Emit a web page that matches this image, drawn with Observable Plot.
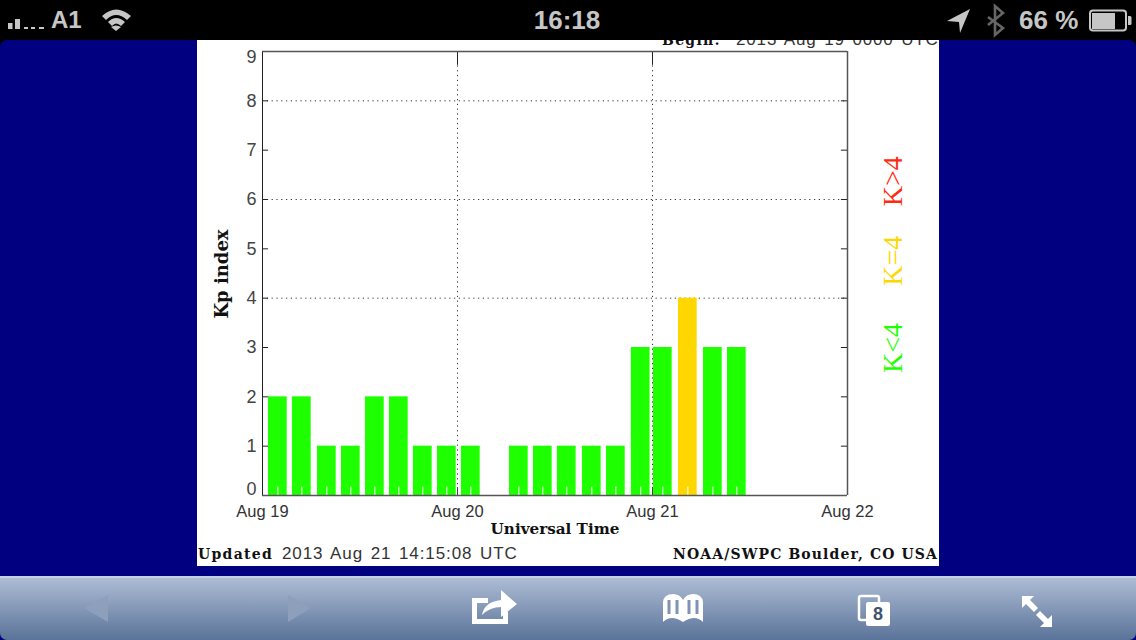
<!DOCTYPE html>
<html>
<head>
<meta charset="utf-8">
<script src="https://cdn.jsdelivr.net/npm/d3@7"></script>
<script src="https://cdn.jsdelivr.net/npm/@observablehq/plot@0.6"></script>
<style>
html,body{margin:0;padding:0;width:1136px;height:640px;overflow:hidden;background:#000}
#navy{position:absolute;left:0;top:40px;width:1136px;height:600px;background:#000080;border-radius:7px 7px 0 0}
#sheet{position:absolute;left:197px;top:40px;width:742px;height:526px;background:#fff;overflow:hidden}
#chart{position:absolute;left:0;top:0}
.line{position:absolute;white-space:pre;color:#333;font:17px "Liberation Sans",sans-serif;letter-spacing:.9px;word-spacing:2px;line-height:18px}
.line b{font:bold 14px "DejaVu Serif",serif;letter-spacing:1.3px;word-spacing:1px;color:#111}
#status{position:absolute;left:0;top:0;width:1136px;height:40px;background:#000;color:#c6c6c6;font-family:"Liberation Sans",sans-serif}
#status span{position:absolute;line-height:40px;top:0}
#bar{position:absolute;left:0;top:576px;width:1136px;height:64px;border-radius:0 0 7px 7px;border-top:2px solid #c5d0e0;box-sizing:border-box;background:linear-gradient(#adbcd4,#5a7399)}
.icon{position:absolute;left:0;top:0}
</style>
</head>
<body>
<div id="navy"></div>
<div id="sheet">
  <div class="line" style="left:465px;top:-9px"><b>Begin:</b></div>
  <div class="line" style="left:539px;top:-9px;letter-spacing:.85px">2013 Aug 19 0000 UTC</div>
  <div class="line" style="left:1px;top:505px"><b>Updated</b></div>
  <div class="line" style="left:85px;top:505px">2013 Aug 21 14:15:08 UTC</div>
  <div class="line" style="left:476px;top:505px"><b style="letter-spacing:1.12px;word-spacing:0">NOAA/SWPC Boulder, CO USA</b></div>
</div>
<div id="chart"></div>
<div id="bar"></div>
<div id="status">
  <span style="left:51px;font-size:24px;font-weight:700">A1</span>
  <span style="left:532px;width:70px;text-align:center;font-size:26px;font-weight:700">16:18</span>
  <span style="left:1019px;font-size:26px;font-weight:700">66 %</span>
</div>
<svg class="icon" width="1136" height="640" viewBox="0 0 1136 640">
  <g fill="#c6c6c6">
    <rect x="8" y="23" width="4.5" height="6"/><rect x="15" y="19" width="5" height="10"/>
    <rect x="24" y="27" width="4" height="2"/><rect x="31" y="27" width="4" height="2"/><rect x="39" y="27" width="5" height="2"/>
    <path d="M102 16 Q116 3 131 16 L127 20 Q116 10 106 20Z"/>
    <path d="M108 22 Q116 14 125 22 L121 26 Q116 21 112 26Z"/>
    <path d="M116 31 L111 27 Q116 24 121 27Z"/>
    <path d="M947 21 L970 9 L960 33 L959 22Z"/>
    <rect x="1092" y="13" width="23" height="16"/>
  </g>
  <path d="M988 17 L1003 28 L995 35 L995 6 L1003 13 L988 25" fill="none" stroke="#666" stroke-width="2.6"/>
  <rect x="1090" y="10.5" width="36" height="20" rx="3" fill="none" stroke="#c6c6c6" stroke-width="2"/>
  <path d="M1128 16 h2 q1.5 0 1.5 1.5 v6 q0 1.5 -1.5 1.5 h-2Z" fill="#c6c6c6"/>

  <path d="M108 595 L84 608 L108 622Z" fill="#8d9fba"/>
  <path d="M288 595 L311 608 L288 622Z" fill="#8d9fba"/>
  <path d="M472 598 H488 V603 H477 V619 H503 V612 H508 V624 H472Z" fill="#fff"/>
  <path d="M482 615 Q484 602 501 600 V590 L517 604 L501 617 V607 Q490 607 482 615Z" fill="#fff"/>
  <path d="M663 622 V602 Q664 594 673 594 Q680 594 683 600 Q686 594 693 594 Q702 594 703 602 V622 Q695 614 683 622 Q671 614 663 622Z" fill="#fff"/>
  <path d="M669 600 V614 M677 600 V614 M689 600 V614 M697 600 V614" stroke="#7f93b3" stroke-width="3"/>
  <rect x="859" y="596" width="20" height="24" rx="2" fill="none" stroke="#fff" stroke-width="2.5"/>
  <rect x="866" y="602" width="24" height="24" rx="2" fill="#fff"/>
  <text x="878" y="620" text-anchor="middle" font-family="Liberation Sans" font-weight="700" font-size="18" fill="#3e5270">8</text>
  <path d="M1022 596 H1034 L1030 600 L1038 608 L1034 612 L1026 604 L1022 608Z" fill="#fff"/>
  <path d="M1052 627 H1040 L1044 623 L1036 615 L1040 611 L1048 619 L1052 615Z" fill="#fff"/>
</svg>
<script>
// Kp index, one value per 3-hour reading, with the hour after Aug 19 00:00 UT each bar begins at
const barStartHours = [0.74, 3.69, 6.77, 9.72, 12.68, 15.63, 18.58, 21.54, 24.49, 27.45, 30.4, 33.35, 36.3, 39.38, 42.34, 45.4, 48.12, 51.2, 54.28, 57.23];
const kpValues = [2, 2, 1, 1, 2, 2, 1, 1, 1, 0, 1, 1, 1, 1, 1, 3, 3, 4, 3, 3];
const barSpanHours = 2.3;
const dayHours = [0, 24, 48, 72];
const dayLabels = ["Aug 19", "Aug 20", "Aug 21", "Aug 22"];
const kTicks = [0, 1, 2, 3, 4, 5, 6, 7, 8, 9];
const kGrid = [4, 6, 8];
const legendLabels = ["K>4", "K=4", "K<4"];
const legendKp = [6.37, 4.76, 2.99];
const legendColors = ["#ff2a10", "#ffd700", "#1eff00"];

const T = h => new Date(Date.UTC(2013, 7, 19) + h * 3600000);
const bars = kpValues.map((k, i) => ({k, a: T(barStartHours[i]), b: T(barStartHours[i] + barSpanHours), c: T(barStartHours[i] + barSpanHours / 2)}));
const sans = "Liberation Sans, sans-serif";
const serif = "Liberation Serif, serif";
const boldSerif = "DejaVu Serif, serif";
const ink = "#555";
const tickLen = 0.75;
const dayTicks = dayHours.map(T);
const yAxisStyle = {tickSize: 0, tickPadding: 6, label: null, fontSize: 18, fontFamily: sans, fill: "#444"};

const plot = Plot.plot({
  width: 1136, height: 640,
  marginLeft: 262, marginRight: 289, marginTop: 51, marginBottom: 145,
  style: {background: "transparent", overflow: "visible"},
  x: {type: "utc", domain: [T(0), T(72)]},
  y: {domain: [0, 9]},
  color: {type: "threshold", domain: [4, 5], range: ["#1eff00", "#ffd700", "#ff2a10"]},
  marks: [
    Plot.ruleY(kGrid, {stroke: "#333", strokeWidth: 1, strokeDasharray: "1.2 3.6"}),
    Plot.ruleX(dayTicks.slice(1, 3), {stroke: "#333", strokeWidth: 1, strokeDasharray: "1.2 3.6"}),
    Plot.rectY(bars.filter(d => d.k > 0), {x1: "a", x2: "b", y1: 0, y2: "k", fill: "k"}),
    Plot.ruleX(bars.filter(d => d.k > 0), {x: "c", y1: 0, y2: 0.17, stroke: "#fff", strokeWidth: 1}),
    Plot.ruleX(dayTicks.slice(1, 3), {y1: 8.72, y2: 9, stroke: "#222", strokeWidth: 1}),
    Plot.ruleX(dayTicks.slice(1, 3), {y1: 0, y2: 0.16, stroke: "#444", strokeWidth: 1}),
    Plot.ruleY(kTicks.slice(1, 9), {x1: T(0), x2: T(tickLen), stroke: "#222", strokeWidth: 1}),
    Plot.ruleY(kTicks.slice(1, 9), {x1: T(72 - tickLen), x2: T(72), stroke: "#222", strokeWidth: 1}),
    Plot.ruleX([T(0)], {stroke: "#222", strokeWidth: 1}),
    Plot.ruleX([T(72)], {stroke: ink, strokeWidth: 1.5}),
    Plot.ruleY([0, 9], {stroke: ink, strokeWidth: 1.6}),
    Plot.axisY({...yAxisStyle, ticks: kTicks.slice(1, 9)}),
    Plot.axisY({...yAxisStyle, ticks: [9], dy: 6}),
    Plot.axisY({...yAxisStyle, ticks: [0], dy: -6}),
    Plot.axisX({ticks: dayTicks, tickSize: 0, tickPadding: 10, label: null, fontSize: 16.5, fontFamily: sans, fill: "#333",
      tickFormat: d => dayLabels[dayTicks.findIndex(t => +t === +d)]}),
    Plot.text(["Universal Time"], {x: T(36), y: -0.69, fontSize: 15.2, fontWeight: 700, fontFamily: boldSerif, fill: "#111"}),
    Plot.text(["Kp index"], {x: T(-5.0), y: 4.49, rotate: -90, fontSize: 18, fontWeight: 700, fontFamily: boldSerif, fill: "#111"}),
    Plot.text(legendLabels, {x: T(77.65), y: (d, i) => legendKp[i], rotate: -90, fontSize: 28, fontFamily: serif,
      fill: (d, i) => legendColors[i]})
  ]
});
document.getElementById("chart").appendChild(plot);
</script>
</body>
</html>
